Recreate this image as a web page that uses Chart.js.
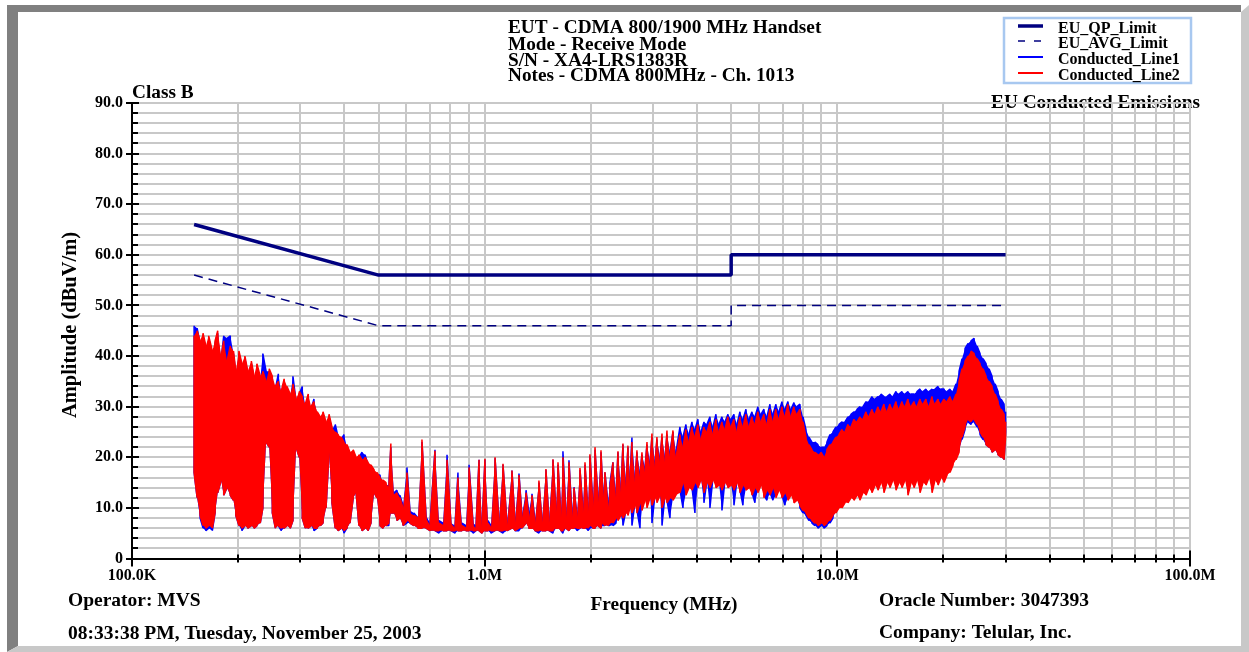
<!DOCTYPE html>
<html>
<head>
<meta charset="utf-8">
<script src="https://cdn.jsdelivr.net/npm/chart.js@4.4.1/dist/chart.umd.min.js"></script>
<style>
  html, body { margin: 0; padding: 0; background: #fff; overflow: hidden; }
  canvas { display: block; }
</style>
</head>
<body>
<canvas id="emissions" width="1249" height="652"></canvas>
<script>
// ---- Sweep points (MHz) ----
const sweepFreqMHz = [
  // 150 kHz - 525 kHz
  0.150, 0.153, 0.156, 0.159, 0.162, 0.165, 0.169, 0.172, 0.175, 0.179,
  0.182, 0.186, 0.190, 0.194, 0.197, 0.201, 0.205, 0.209, 0.213, 0.218,
  0.222, 0.226, 0.231, 0.235, 0.240, 0.245, 0.250, 0.255, 0.260, 0.265,
  0.270, 0.275, 0.281, 0.286, 0.292, 0.298, 0.304, 0.310, 0.316, 0.322,
  0.328, 0.335, 0.342, 0.348, 0.355, 0.362, 0.369, 0.377, 0.384, 0.392,
  0.399, 0.407, 0.415, 0.424, 0.432, 0.440, 0.449, 0.458, 0.467, 0.476,
  0.486, 0.495, 0.505, 0.515, 0.525,
  // 0.5 MHz - 3.5 MHz
  0.535, 0.542, 0.553, 0.564, 0.575, 0.587, 0.602, 0.614, 0.630, 0.647,
  0.664, 0.682, 0.700, 0.723, 0.742, 0.762, 0.782, 0.802, 0.824, 0.840,
  0.862, 0.885, 0.903, 0.927, 0.945, 0.964, 0.983, 1.002, 1.022, 1.042,
  1.070, 1.098, 1.127, 1.157, 1.195, 1.219, 1.251, 1.276, 1.310, 1.335,
  1.362, 1.389, 1.425, 1.454, 1.492, 1.522, 1.562, 1.593, 1.614, 1.646,
  1.667, 1.701, 1.734, 1.768, 1.792, 1.827, 1.863, 1.900, 1.925, 1.963,
  1.988, 2.028, 2.055, 2.096, 2.137, 2.165, 2.193, 2.237, 2.266, 2.311,
  2.357, 2.388, 2.435, 2.467, 2.516, 2.549, 2.582, 2.616, 2.668, 2.703,
  2.757, 2.793, 2.848, 2.886, 2.943, 2.981, 3.040, 3.080, 3.141, 3.183,
  3.245, 3.288, 3.353, 3.420, 3.487,
  // 3.5 MHz - 30 MHz
  3.579, 3.650, 3.722, 3.796, 3.871, 3.947, 4.025, 4.105, 4.186, 4.269,
  4.353, 4.439, 4.527, 4.617, 4.708, 4.801, 4.896, 4.993, 5.092, 5.192,
  5.295, 5.400, 5.507, 5.616, 5.727, 5.840, 5.955, 6.073, 6.193, 6.316,
  6.441, 6.568, 6.698, 6.831, 6.966, 7.104, 7.244, 7.387, 7.533, 7.682,
  7.834, 7.989, 8.147, 8.308, 8.472, 8.640, 8.811, 8.985, 9.163, 9.344,
  9.529, 9.717, 9.909, 10.11, 10.31, 10.51, 10.72, 10.93, 11.15, 11.37,
  11.59, 11.82, 12.06, 12.29, 12.54, 12.79, 13.04, 13.30, 13.56, 13.83,
  14.10, 14.38, 14.67, 14.96, 15.25, 15.56, 15.86, 16.18, 16.50, 16.82,
  17.16, 17.50, 17.84, 18.20, 18.56, 18.92, 19.30, 19.68, 20.07, 20.47,
  20.87, 21.29, 21.71, 22.14, 22.58, 23.02, 23.48, 23.94, 24.42, 24.90,
  25.39, 25.89, 26.41, 26.93, 27.46, 28.01, 28.56, 29.13, 29.70, 30.00
];

// ---- Conducted_Line1: highest / lowest reading at each sweep point (dBuV) ----
const line1Peak = [
  46, 45.5, 42.5, 44, 41.5, 43.5, 40.5, 42.5, 44.5, 39.5,
  44, 43.5, 44, 40.5, 36.5, 40.5, 38, 39.5, 36.5, 38.5,
  35.5, 38, 35.5, 40.5, 37, 37, 35.5, 33.5, 36.5, 32.5,
  35, 33.5, 32, 36, 31, 32.5, 34, 30, 32, 29.5,
  31.5, 28.5, 27.5, 28.5, 26.5, 28, 25.5, 26.5, 24, 23.5,
  24.5, 22, 20.5, 21, 19.5, 20, 21, 20.5, 18.5, 18,
  17, 16.5, 16.5, 15, 14.5,
  14.5, 22, 13, 13.5, 12.5, 10.5, 18, 9.5, 9, 8,
  23, 8.5, 7, 21.5, 7.5, 7, 20.5, 7, 6.5, 17,
  7, 6.5, 18.5, 7, 6.5, 19.5, 6.5, 19.5, 7.5, 6.5,
  19.8, 7.5, 18.5, 7, 17.4, 7.5, 16.8, 8.5, 13.5, 9,
  12.8, 7.5, 15, 7.5, 17.5, 7.5, 19.5, 9.5, 18.5, 8.5,
  21.2, 8.5, 19.4, 9, 14.1, 8.5, 17.5, 10, 18.5, 9.5,
  20.3, 11, 21.5, 12, 21, 13, 17, 11, 15, 19,
  13, 21, 14, 22.5, 15, 22, 16, 23.9, 16, 21,
  17, 20.5, 18, 22.5, 19, 24, 19, 23.5, 20, 24,
  20, 24.5, 21, 25, 21,
  26, 24, 26.5, 24.5, 27, 25.5, 27.5, 25, 27, 26.5,
  28, 26, 28.5, 26.5, 28, 27, 28.5, 27.5, 28.5, 26.5,
  29, 27.5, 29.5, 27.5, 29, 28, 30, 28.5, 29.5, 28,
  30.5, 28.5, 30.5, 29, 31, 29.5, 31, 29.5, 30.8, 30,
  30.5, 28, 25.5, 24, 23, 23, 22.5, 22, 22, 23,
  24.5, 25, 26, 26.5, 27, 27, 28, 28.5, 29, 29.5,
  30, 30, 31, 31, 32, 31.5, 32, 32.5, 32, 32,
  32.5, 32, 33, 32.5, 33, 32.5, 33, 32.5, 32.5, 33,
  33.5, 33, 33.5, 33, 33.5, 33.5, 34, 33.5, 33.5, 33,
  33.5, 33, 34.5, 37, 39.5, 41.5, 42.5, 43, 43.5, 42,
  40.5, 39.5, 38.5, 37.5, 36, 34.5, 33, 31.5, 30.5, 29
];
const line1Floor = [
  17, 12, 8, 6, 5.5, 6, 5.5, 9, 13, 15.5,
  12.5, 14, 12.5, 11.5, 8.5, 6.5, 5.5, 6.5, 6, 6.5,
  6, 6.5, 7, 10, 23, 22, 9, 6, 6.5, 5.5,
  6, 6.5, 6, 7.5, 22, 20, 8, 6, 6, 6.5,
  5.5, 6, 6.5, 7, 10, 21, 11, 6, 5.5, 6,
  5, 6, 7, 12, 13, 6.5, 5.5, 6, 5.5, 7,
  13, 12, 6.5, 6, 6.5,
  6.5, 9, 9, 7.5, 8, 6.5, 7, 7, 6.5, 6,
  6, 6, 5.5, 5.5, 5, 5.5, 5.5, 5.5, 5, 5.5,
  5.5, 5.5, 5.5, 5, 5.5, 5.5, 5, 5.5, 5.5, 5,
  5.5, 5.5, 5, 5.5, 6, 5.5, 5.5, 6, 7, 6,
  6, 5.5, 5, 5.5, 5.5, 5.5, 5, 6, 6, 5.5,
  5, 6, 5.5, 6, 6, 5.5, 6, 6, 6, 5.5,
  6, 6, 6, 6.5, 6, 6.5, 6.5, 6.5, 6.5, 6.5,
  7, 8, 8.5, 6.5, 9.5, 9, 10.5, 6.5, 11, 9.5,
  6, 10, 12, 10.5, 12.5, 7, 12.5, 11.5, 13, 6.5,
  12.5, 11.5, 8, 12, 13,
  13.5, 10, 13, 14.5, 14, 9, 14.5, 16, 11, 15.5,
  10, 16, 14.5, 15, 9.5, 15.5, 14.5, 15, 10.5, 15.5,
  13.5, 10.5, 14, 14.5, 13, 11, 13.5, 15, 12.5, 11.5,
  13, 11.5, 12.5, 14, 12.5, 10.5, 12, 13, 11.5, 12,
  10, 9, 8.5, 7.5, 7, 6.5, 6, 6.5, 6, 6.5,
  7, 8, 9.5, 10.5, 10.5, 11.5, 11.5, 12.5, 12, 13,
  12, 13.5, 13, 14.5, 13.5, 15, 14, 15.5, 13.5, 15.5,
  14.5, 16, 14, 15.5, 14.5, 16, 13, 15.5, 14.5, 16,
  13.5, 15.5, 15, 16.5, 13.5, 16, 15, 16.5, 15.5, 17,
  17.5, 19, 20, 21.5, 23.5, 25.5, 27, 26.5, 27, 26,
  24.5, 23.5, 22.5, 22, 21, 21.5, 20.5, 20, 19.5, 25
];

// ---- Conducted_Line2: highest / lowest reading at each sweep point (dBuV) ----
const line2Peak = [
  44, 45, 43, 44.5, 42, 44, 41, 43, 45, 40,
  43, 39, 42, 41, 37, 41, 38.5, 40, 37, 39,
  36, 38.5, 36, 37, 35, 37.5, 36, 34, 35, 33,
  35.5, 34, 32.5, 34.5, 31.5, 33, 32, 30.5, 32.5, 30,
  31, 29, 28, 29, 27, 28.5, 26, 25, 24.5, 24,
  23, 22.5, 21, 21.5, 20, 20.5, 19.5, 20, 19, 18.5,
  17.5, 17, 16, 15.5, 15,
  14, 22.7, 12.5, 13, 12, 10, 17, 9, 8.5, 8,
  23.5, 8, 6.5, 21.3, 7, 6.5, 19.5, 7, 6, 16,
  6.5, 6, 18, 6.5, 6, 19.5, 6, 19.7, 7, 6,
  20, 7, 18.7, 6.5, 17.4, 7, 16.5, 8, 13, 8,
  12.5, 7, 15.4, 7, 17.7, 7, 19.6, 9, 19, 8,
  20, 8, 19, 8, 14, 8, 17.9, 9, 19, 9,
  20.6, 10, 22, 11, 21.4, 12, 17.1, 10, 14, 19,
  12, 21.2, 13, 22.7, 14, 22.3, 15, 23, 15, 21.4,
  16, 21, 17, 23, 18, 24.7, 18, 24, 19, 24.7,
  19, 25.3, 20, 25.3, 20,
  24.5, 22, 25.5, 23, 26, 24, 26.5, 23.5, 26, 25,
  27, 24.5, 27.5, 25, 27, 25.5, 28, 26, 27.5, 25,
  28, 26, 28.5, 26, 28, 26.5, 29, 27, 28.5, 26.5,
  29.5, 27, 29.5, 27.5, 30, 28, 30.5, 28, 30, 28.5,
  29.5, 27, 24, 22.5, 21.5, 21, 20.5, 21, 20, 21.5,
  22.5, 23, 24, 24.5, 25.5, 25, 26.5, 26, 27.5, 27,
  28, 27.5, 29, 28, 29.5, 28.5, 30, 29, 30.5, 29,
  30.5, 29.5, 31, 29.5, 31, 30, 31.5, 30, 31, 30,
  31.5, 30.5, 31.5, 30, 32, 30.5, 31.5, 30.5, 31.5, 31,
  32, 31, 32.5, 35, 37.5, 39, 40, 41, 40.5, 39.5,
  38.5, 37.5, 36, 35, 34, 32.5, 31, 29.5, 28.5, 27
];
const line2Floor = [
  17, 12, 8.5, 6.5, 6, 6.5, 6, 9, 13, 15.5,
  12.5, 14, 12.5, 11.5, 8.5, 6.5, 6, 6.5, 6, 6.5,
  6, 6.5, 7, 10, 23, 22, 9, 6, 6.5, 6,
  6, 6.5, 6, 7.5, 22, 20, 8, 6, 6, 6.5,
  6, 6, 6.5, 7, 10, 21, 11, 6, 5.5, 6,
  5.5, 6, 7, 12, 13, 6.5, 5.5, 6, 5.5, 7,
  13, 12, 6.5, 6, 6.5,
  7, 9, 9, 7.5, 8, 6.5, 7.5, 7, 6.5, 6,
  6, 6, 5.5, 5.5, 5.5, 5.5, 5.5, 5.5, 5.5, 5.5,
  5.5, 5.5, 5.5, 5.5, 5.5, 5.5, 5, 5.5, 5.5, 5.5,
  5.5, 5.5, 5.5, 5.5, 6, 5.5, 6, 6, 7, 6,
  6, 5.5, 5.5, 5.5, 5.5, 5.5, 5.5, 6, 6, 5.5,
  5.5, 6, 5.5, 6, 6, 6, 6, 6, 6, 6,
  6.5, 6, 6, 6.5, 6, 7, 6.5, 6.5, 7, 7,
  8, 7.5, 8.5, 8, 9, 8.5, 10, 9, 10.5, 9,
  11, 9.5, 11.5, 10, 12, 10.5, 12, 11, 12.5, 10,
  12, 11, 12, 11.5, 12.5,
  13, 15, 12.5, 14, 13.5, 15, 14, 15.5, 13, 15,
  14, 15.5, 14, 14.5, 13.5, 15, 14, 14.5, 13.5, 15,
  13, 14.5, 13.5, 14, 12.5, 14, 13, 14.5, 12, 13.5,
  12.5, 14, 12, 13.5, 12, 13, 11.5, 12.5, 11, 11.5,
  10.5, 9.5, 9, 8, 7.5, 7, 6.5, 7, 6.5, 7,
  7.5, 8.5, 9, 10, 10, 11, 11, 12, 11.5, 12.5,
  11.5, 13, 12.5, 14, 13, 14.5, 13.5, 15, 13, 15,
  14, 15.5, 13.5, 15, 14, 15.5, 12.5, 15, 14, 15.5,
  13, 15, 14.5, 16, 13, 15.5, 14.5, 16, 15, 16.5,
  17, 18.5, 19.5, 21, 24, 26, 27.5, 27, 27.5, 26.5,
  25, 24, 22.5, 22, 21, 21.5, 20.5, 20, 19.5, 24
];

// ---- EN 55022 Class B conducted limits ----
const limitFreqMHz = [0.15, 0.5, 5, 5, 30];
const qpLimit = [66, 56, 56, 60, 60];
const avgLimit = [56, 46, 46, 50, 50];

// ---- Axis ticks ----
const xGridMHz = [
  0.1, 0.2, 0.3, 0.4, 0.5, 0.6, 0.7, 0.8, 0.9,
  1, 2, 3, 4, 5, 6, 7, 8, 9,
  10, 20, 30, 40, 50, 60, 70, 80, 90, 100
];
const xLabelValues = [0.1, 1, 10, 100];
const xLabelText = ['100.0K', '1.0M', '10.0M', '100.0M'];
const yTickLabels = ['0', '10.0', '20.0', '30.0', '40.0', '50.0', '60.0', '70.0', '80.0', '90.0'];

const titleLines = [
  'EUT - CDMA 800/1900 MHz Handset',
  'Mode - Receive Mode',
  'S/N - XA4-LRS1383R',
  'Notes - CDMA 800MHz - Ch. 1013'
];

const W = 1249, H = 652;
const SERIF = '"Liberation Serif", "Times New Roman", serif';
const NAVY = '#000080';
const RED = '#ff0000';
const BLUE = '#0000ff';
const bold = (px) => `bold ${px}px ${SERIF}`;

// Each sweep point is a vertical stroke between its peak and floor; the
// direction alternates so consecutive strokes join along the envelope edges.
function trace(peak, floor) {
  const pts = [];
  const n = Math.min(sweepFreqMHz.length, peak.length, floor.length);
  for (let i = 0; i < n; i++) {
    const f = sweepFreqMHz[i];
    const pair = i % 2 === 0 ? [peak[i], floor[i]] : [floor[i], peak[i]];
    pts.push({ x: f, y: pair[0] });
    if (pair[1] !== pair[0]) pts.push({ x: f, y: pair[1] });
  }
  return pts;
}
// Envelope edge (peaks or floors) used to shade the band the trace sweeps through.
const edge = (vals) => sweepFreqMHz.slice(0, vals.length).map((f, i) => ({ x: f, y: vals[i] }));
const limitPoints = (vals) => limitFreqMHz.map((f, i) => ({ x: f, y: vals[i] }));

const legendItems = [
  { text: 'EU_QP_Limit', color: NAVY, width: 3.5, dash: [] },
  { text: 'EU_AVG_Limit', color: NAVY, width: 1.5, dash: [7, 9] },
  { text: 'Conducted_Line1', color: BLUE, width: 2, dash: [] },
  { text: 'Conducted_Line2', color: RED, width: 2, dash: [] }
];

const decorations = {
  id: 'decorations',
  beforeDraw(chart) {
    const ctx = chart.ctx;
    ctx.save();
    ctx.fillStyle = '#ffffff';
    ctx.fillRect(0, 0, W, H);
    // bevelled frame
    ctx.fillStyle = '#808080';
    ctx.beginPath();
    ctx.moveTo(7, 5); ctx.lineTo(1241, 5); ctx.lineTo(1241, 12); ctx.lineTo(18, 12);
    ctx.lineTo(18, 646); ctx.lineTo(7, 652); ctx.closePath(); ctx.fill();
    ctx.fillStyle = '#c8c8c8';
    ctx.beginPath();
    ctx.moveTo(1249, 5); ctx.lineTo(1249, 652); ctx.lineTo(7, 652); ctx.lineTo(18, 646);
    ctx.lineTo(1241, 646); ctx.lineTo(1241, 12); ctx.closePath(); ctx.fill();
    ctx.fillStyle = '#ffffff';
    ctx.fillRect(0, 0, W, 5);
    ctx.fillRect(0, 0, 7, H);

    // plot caption; the grid is painted across it afterwards
    ctx.fillStyle = '#000';
    ctx.font = bold(19.3);
    ctx.textAlign = 'right';
    ctx.textBaseline = 'alphabetic';
    ctx.fillText('EU Conducted Emissions', 1200, 108);
    ctx.restore();
  },
  afterDraw(chart) {
    const ctx = chart.ctx;
    const xs = chart.scales.x, ys = chart.scales.y;
    const left = chart.chartArea.left, bottom = chart.chartArea.bottom;
    ctx.save();

    // axis tick marks
    ctx.strokeStyle = '#000';
    ctx.lineWidth = 2;
    ctx.beginPath();
    ys.ticks.forEach((t) => {
      const y = Math.round(ys.getPixelForValue(t.value));
      const major = Math.round(t.value) % 10 === 0;
      ctx.moveTo(major ? left - 6 : left, y);
      ctx.lineTo(left + (major ? 7 : 6), y);
    });
    xs.ticks.forEach((t) => {
      const x = Math.round(xs.getPixelForValue(t.value));
      const major = xLabelValues.includes(t.value);
      ctx.moveTo(x, bottom - (major ? 8 : 4));
      ctx.lineTo(x, bottom + (major ? 8 : 4));
    });
    ctx.stroke();

    ctx.fillStyle = '#000';
    ctx.textBaseline = 'alphabetic';
    ctx.textAlign = 'left';

    // heading block
    ctx.font = bold(19.3);
    const baselines = [33, 50, 66, 81];
    titleLines.forEach((s, i) => ctx.fillText(s, 508, baselines[i]));
    ctx.fillText('Class B', 132, 98);

    // legend
    ctx.strokeStyle = '#a8c8f0';
    ctx.lineWidth = 2.5;
    ctx.strokeRect(1004, 18, 187, 65);
    ctx.font = bold(16);
    const rowY = [33, 48, 64, 80];
    legendItems.forEach((it, i) => {
      ctx.strokeStyle = it.color;
      ctx.lineWidth = it.width;
      ctx.setLineDash(it.dash);
      ctx.beginPath();
      ctx.moveTo(1018, rowY[i] - 7);
      ctx.lineTo(1043, rowY[i] - 7);
      ctx.stroke();
      ctx.setLineDash([]);
      ctx.fillText(it.text, 1058, rowY[i]);
    });

    // axis titles
    ctx.font = bold(19.3);
    ctx.textAlign = 'center';
    ctx.fillText('Frequency (MHz)', 664, 610);
    ctx.save();
    ctx.font = bold(20.5);
    ctx.translate(76, 325);
    ctx.rotate(-Math.PI / 2);
    ctx.fillText('Amplitude (dBuV/m)', 0, 0);
    ctx.restore();

    // footer
    ctx.font = bold(19.5);
    ctx.textAlign = 'left';
    ctx.fillText('Operator: MVS', 68, 606);
    ctx.fillText('08:33:38 PM, Tuesday, November 25, 2003', 68, 639);
    ctx.fillText('Oracle Number: 3047393', 879, 606);
    ctx.fillText('Company: Telular, Inc.', 879, 638);
    ctx.restore();
  }
};

const tickFont = { family: SERIF, size: 16, weight: 'bold' };
const band = (color, order) => ({ borderWidth: 0, backgroundColor: color, order });

new Chart(document.getElementById('emissions').getContext('2d'), {
  type: 'line',
  data: {
    datasets: [
      { label: 'EU_QP_Limit', data: limitPoints(qpLimit), borderColor: NAVY, borderWidth: 3.5, order: 0 },
      { label: 'EU_AVG_Limit', data: limitPoints(avgLimit), borderColor: NAVY, borderWidth: 1.5, borderDash: [9, 6], order: 1 },
      { label: 'Conducted_Line2', data: trace(line2Peak, line2Floor), borderColor: RED, borderWidth: 1.5, order: 2 },
      { label: 'Conducted_Line2 peak', data: edge(line2Peak), fill: '+1', ...band(RED, 3) },
      { label: 'Conducted_Line2 floor', data: edge(line2Floor), ...band(RED, 4) },
      { label: 'Conducted_Line1', data: trace(line1Peak, line1Floor), borderColor: BLUE, borderWidth: 1.5, order: 5 },
      { label: 'Conducted_Line1 peak', data: edge(line1Peak), fill: '+1', ...band(BLUE, 6) },
      { label: 'Conducted_Line1 floor', data: edge(line1Floor), ...band(BLUE, 7) }
    ]
  },
  options: {
    responsive: false,
    animation: false,
    devicePixelRatio: 1,
    layout: { padding: { left: 0, top: 103, right: 59, bottom: 0 } },
    elements: {
      point: { radius: 0 },
      line: { tension: 0, fill: false, borderJoinStyle: 'bevel' }
    },
    plugins: { legend: { display: false }, title: { display: false }, tooltip: { enabled: false } },
    scales: {
      x: {
        type: 'logarithmic',
        min: 0.1,
        max: 100,
        afterBuildTicks: (s) => { s.ticks = xGridMHz.map((v) => ({ value: v })); },
        afterFit: (s) => { s.height = 93.5; },
        grid: { color: '#c8c8c8', lineWidth: 2, drawTicks: false },
        border: { display: true, color: '#000', width: 2 },
        ticks: {
          autoSkip: false, maxRotation: 0, padding: 8, color: '#000', font: tickFont,
          callback: (v) => { const i = xLabelValues.indexOf(v); return i >= 0 ? xLabelText[i] : ''; }
        }
      },
      y: {
        min: 0,
        max: 90,
        afterFit: (s) => { s.width = 132; },
        grid: { color: '#c8c8c8', lineWidth: 2, drawTicks: false },
        border: { display: true, color: '#000', width: 2 },
        ticks: {
          stepSize: 2, autoSkip: false, padding: 9, color: '#000', font: tickFont,
          callback: (v) => { const r = Math.round(v); return r % 10 === 0 ? yTickLabels[r / 10] : ''; }
        }
      }
    }
  },
  plugins: [decorations]
});
</script>
</body>
</html>
